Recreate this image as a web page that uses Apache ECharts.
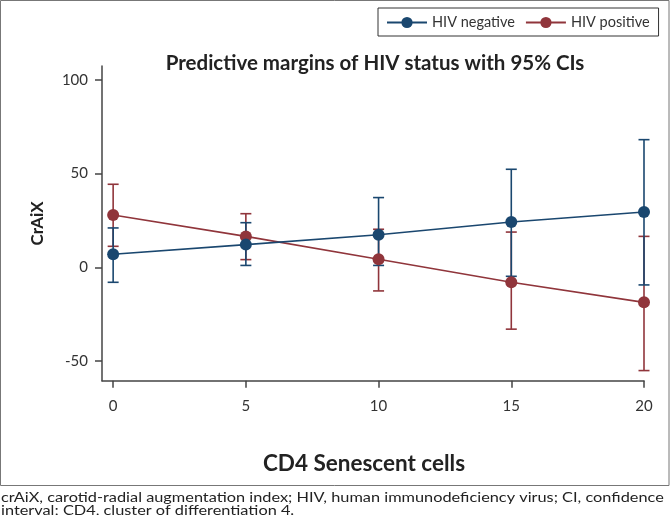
<!DOCTYPE html>
<html>
<head>
<meta charset="utf-8">
<script src="https://cdn.jsdelivr.net/npm/echarts@6/dist/echarts.min.js"></script>
<style>html,body{margin:0;padding:0;background:#fff;}#c{width:670px;height:515px;}</style>
</head>
<body>
<div id="c"></div>
<script>
const xValues = [0, 5, 10, 15, 20];
const negMean = [7, 12.1, 17.4, 24.2, 29.5];
const negLow = [-8, 1, 1, -4.8, -9.4];
const negHigh = [21, 23.8, 37.2, 52.3, 68.1];
const posMean = [27.9, 16.5, 4.3, -8, -18.7];
const posLow = [11.2, 4.1, -12.6, -33, -55.1];
const posHigh = [44.3, 28.6, 20.3, 18.8, 16.5];
const yTicks = [-50, 0, 50, 100];
const xTicks = [0, 5, 10, 15, 20];

const BLUE = '#1a476f';
const RED = '#90353b';
const FONT = 'Lato';

function pairs(ys) { return xValues.map((x, i) => [x, ys[i]]); }
function ciData(lo, hi) { return xValues.map((x, i) => [x, lo[i], hi[i]]); }

function ciSeries(name, lo, hi, color) {
  return {
    type: 'custom',
    name: name + ' CI',
    data: ciData(lo, hi),
    encode: { x: 0, y: [1, 2] },
    silent: true,
    renderItem: function (params, api) {
      const x = api.value(0);
      const p1 = api.coord([x, api.value(1)]);
      const p2 = api.coord([x, api.value(2)]);
      const w = 5.5;
      const style = { stroke: color, lineWidth: 1.6, fill: null };
      return {
        type: 'group',
        children: [
          { type: 'line', shape: { x1: p1[0], y1: p1[1], x2: p2[0], y2: p2[1] }, style: style },
          { type: 'line', shape: { x1: p1[0] - w, y1: p1[1], x2: p1[0] + w, y2: p1[1] }, style: style },
          { type: 'line', shape: { x1: p2[0] - w, y1: p2[1], x2: p2[0] + w, y2: p2[1] }, style: style }
        ]
      };
    },
    z: 2
  };
}

const chart = echarts.init(document.getElementById('c'), null, { renderer: 'canvas' });
chart.setOption({
  animation: false,
  textStyle: { fontFamily: FONT },
  title: {
    text: 'Predictive margins of HIV status with 95% CIs',
    left: 370, top: 48, textAlign: 'center',
    textStyle: { fontFamily: FONT, fontWeight: 'bold', fontSize: 20.5, color: '#222' }
  },
  legend: {
    left: 378, top: 8, width: 320, height: 27,
    padding: [7, 9, 6, 8],
    borderColor: '#333', borderWidth: 1,
    itemWidth: 40, itemHeight: 14, itemGap: 10,
    textStyle: { fontFamily: FONT, fontSize: 14.5, color: '#333' },
    data: ['HIV negative', 'HIV positive']
  },
  grid: { left: 102, right: 26, top: 66, bottom: 134.3 },
  xAxis: {
    type: 'value', min: -0.42, max: 20,
    name: 'CD4 Senescent cells', nameLocation: 'middle', nameGap: 72,
    nameTextStyle: { fontFamily: FONT, fontWeight: 'bold', fontSize: 22.5, color: '#222', padding: [0, 18, 0, 0] },
    axisLine: { onZero: false, lineStyle: { color: '#444', width: 1.5 } },
    axisTick: { show: true, length: 7, lineStyle: { color: '#444', width: 1.5 }, customValues: xTicks },
    axisLabel: { customValues: xTicks, fontSize: 15, color: '#333', margin: 18, fontFamily: FONT },
    splitLine: { show: false }
  },
  yAxis: {
    type: 'value', min: -60.5, max: 107.4,
    name: 'CrAiX', nameLocation: 'middle', nameGap: 56,
    nameTextStyle: { fontFamily: FONT, fontWeight: 'bold', fontSize: 17, color: '#222' },
    axisLine: { show: true, onZero: false, lineStyle: { color: '#444', width: 1.5 } },
    axisTick: { show: true, length: 7, lineStyle: { color: '#444', width: 1.5 }, customValues: yTicks },
    axisLabel: { customValues: yTicks, fontSize: 15, color: '#333', margin: 14, fontFamily: FONT },
    splitLine: { show: false }
  },
  series: [
    ciSeries('HIV positive', posLow, posHigh, RED),
    ciSeries('HIV negative', negLow, negHigh, BLUE),
    {
      type: 'line', name: 'HIV positive', data: pairs(posMean),
      symbol: 'circle', symbolSize: 12,
      lineStyle: { color: RED, width: 1.6 }, itemStyle: { color: RED },
      z: 3
    },
    {
      type: 'line', name: 'HIV negative', data: pairs(negMean),
      symbol: 'circle', symbolSize: 12,
      lineStyle: { color: BLUE, width: 1.6 }, itemStyle: { color: BLUE },
      z: 4
    }
  ],
  graphic: [
    { type: 'rect', shape: { x: 0.5, y: 0.5, width: 668.5, height: 485 }, style: { fill: null, stroke: '#777', lineWidth: 1 }, silent: true },
    { type: 'text', x: 1, y: 491, scaleX: 1.2, style: { text: 'crAiX, carotid-radial augmentation index; HIV, human immunodeficiency virus; CI, confidence\ninterval; CD4, cluster of differentiation 4.', font: '13.6px Lato', fill: '#222', lineHeight: 13 } }
  ]
});
</script>
</body>
</html>
